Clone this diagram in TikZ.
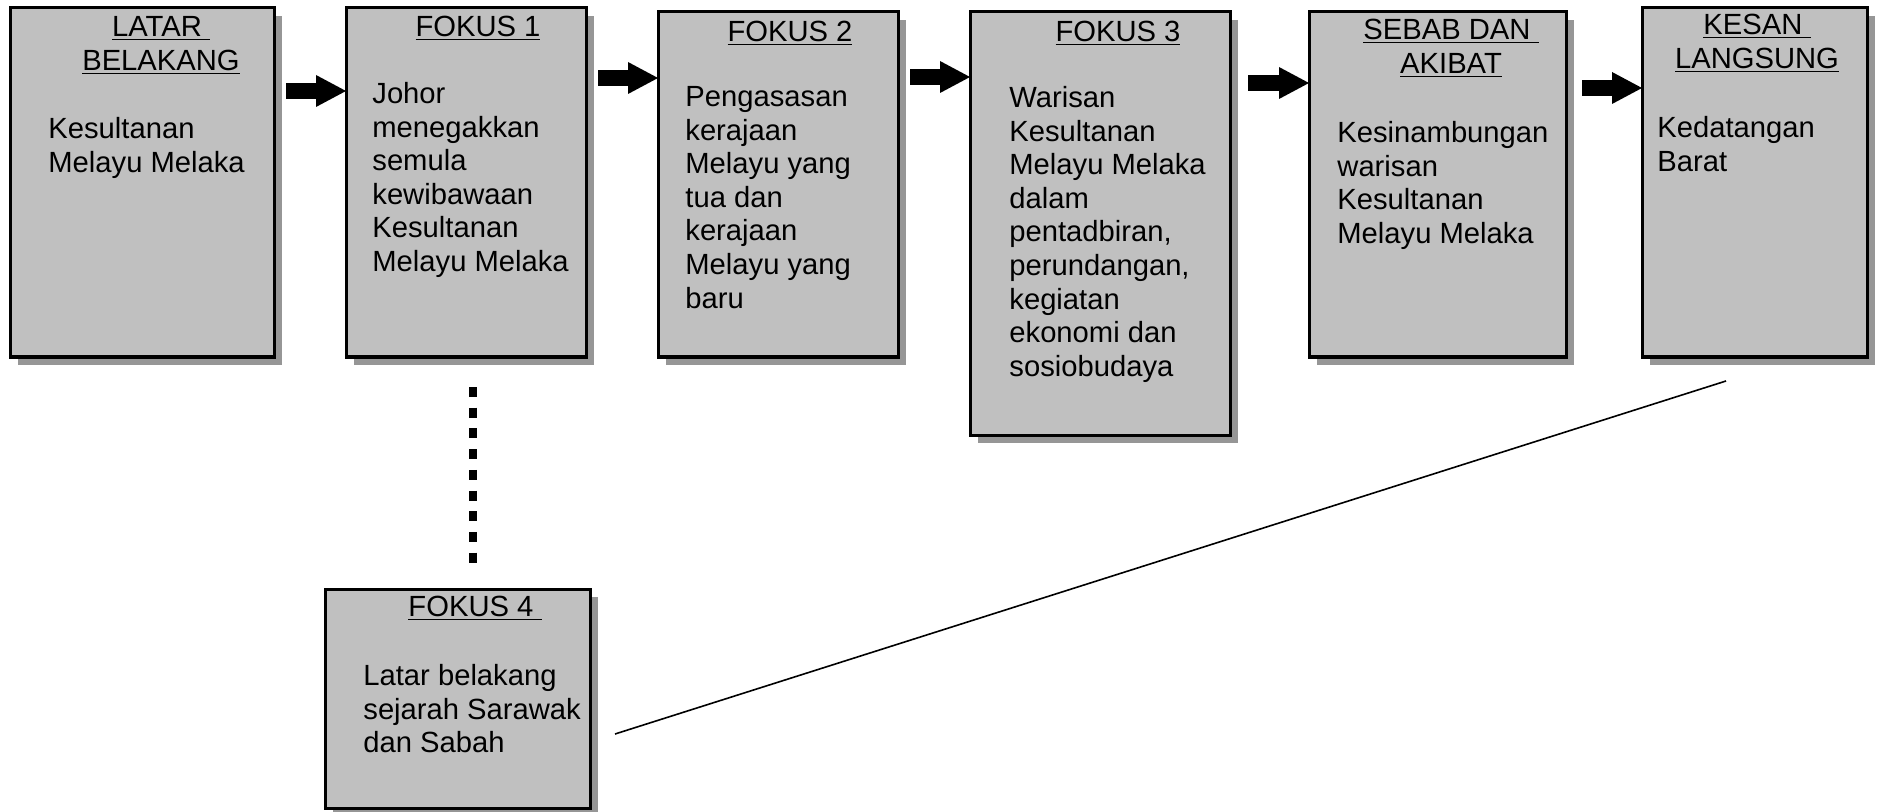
\documentclass[tikz,border=0pt]{standalone}
\usepackage{fontspec}
\setmainfont{Liberation Sans}
\usetikzlibrary{arrows.meta,shadows}
\definecolor{panelgray}{RGB}{192,192,192}
\definecolor{shadowgray}{RGB}{150,150,150}
\tikzset{
  panel/.style={draw=black, line width=1.5pt, fill=panelgray, anchor=north west,
    outer sep=0pt, inner sep=0pt,
    drop shadow={shadow xshift=4pt, shadow yshift=-4pt, fill=shadowgray, opacity=1}},
  headtext/.style={anchor=north, align=center, inner sep=0pt,
    font=\fontsize{14.6}{16.8}\selectfont},
  bodytext/.style={anchor=north west, align=left, inner sep=0pt,
    font=\fontsize{14.6}{16.8}\selectfont},
  blockarrow/.style={line width=8pt, -{Triangle[length=15pt, width=16pt, line width=0pt]}},
  dotline/.style={line width=4pt, dash pattern=on 5pt off 5.35pt}
}
\begin{document}
\begin{tikzpicture}[x=0.5pt, y=-0.5pt]
\useasboundingbox (0,0) rectangle (1877,812);
% boxes
\node[panel, minimum width=132pt, minimum height=174.5pt] (latar) at (10,8) {};
\node[panel, minimum width=120pt, minimum height=174.5pt] (fokusA) at (346,8) {};
\node[panel, minimum width=120pt, minimum height=172.5pt] (fokusB) at (658,12) {};
\node[panel, minimum width=130pt, minimum height=211.5pt] (fokusC) at (970,12) {};
\node[panel, minimum width=128.5pt, minimum height=172.5pt] (sebab) at (1309,12) {};
\node[panel, minimum width=112.5pt, minimum height=174.5pt] (kesan) at (1642,8) {};
\node[panel, minimum width=132.5pt, minimum height=109.5pt] (fokusD) at (325,589) {};
% headings
\node[headtext] (latarH) at (161,16) {\underline{LATAR~}\\\underline{BELAKANG}};
\node[headtext] (fokusAH) at (478,16) {\underline{FOKUS 1}};
\node[headtext] (fokusBH) at (790,21) {\underline{FOKUS 2}};
\node[headtext] (fokusCH) at (1118,21) {\underline{FOKUS 3}};
\node[headtext] (sebabH) at (1451,19) {\underline{SEBAB DAN~}\\\underline{AKIBAT}};
\node[headtext] (kesanH) at (1757,14) {\underline{KESAN~}\\\underline{LANGSUNG}};
\node[headtext] (fokusDH) at (475,596) {\underline{FOKUS 4~}};
% texts
\node[bodytext] (latarT) at (48,117) {Kesultanan\\Melayu Melaka};
\node[bodytext] (fokusAT) at (372,82) {Johor\\menegakkan\\semula\\kewibawaan\\Kesultanan\\Melayu Melaka};
\node[bodytext] (fokusBT) at (685,86) {Pengasasan\\kerajaan\\Melayu yang\\tua dan\\kerajaan\\Melayu yang\\baru};
\node[bodytext] (fokusCT) at (1009,86) {Warisan\\Kesultanan\\Melayu Melaka\\dalam\\pentadbiran,\\perundangan,\\kegiatan\\ekonomi dan\\sosiobudaya};
\node[bodytext] (sebabT) at (1337,121) {Kesinambungan\\warisan\\Kesultanan\\Melayu Melaka};
\node[bodytext] (kesanT) at (1657,116) {Kedatangan\\Barat};
\node[bodytext] (fokusDT) at (363,664) {Latar belakang\\sejarah Sarawak\\dan Sabah};
% arrows
\draw[blockarrow, shorten <=6pt] (latar.east |- 0,91) -- (fokusA.west |- 0,91);
\draw[blockarrow, shorten <=6pt] (fokusA.east |- 0,78) -- (fokusB.west |- 0,78);
\draw[blockarrow, shorten <=6pt] (fokusB.east |- 0,77) -- (fokusC.west |- 0,77);
\draw[blockarrow, shorten <=9pt] (fokusC.east |- 0,83) -- (sebab.west |- 0,83);
\draw[blockarrow, shorten <=8pt] (sebab.east |- 0,88) -- (kesan.west |- 0,88);
\draw[dotline, shorten <=15pt, shorten >=13pt] (fokusA.south -| 473,0) -- (fokusD.north -| 473,0);
\draw[line width=0.8pt] ([shift={(12.5pt,-17.75pt)}]fokusD.east) -- ([shift={(-14.25pt,-12pt)}]kesan.south);
\end{tikzpicture}
\end{document}
